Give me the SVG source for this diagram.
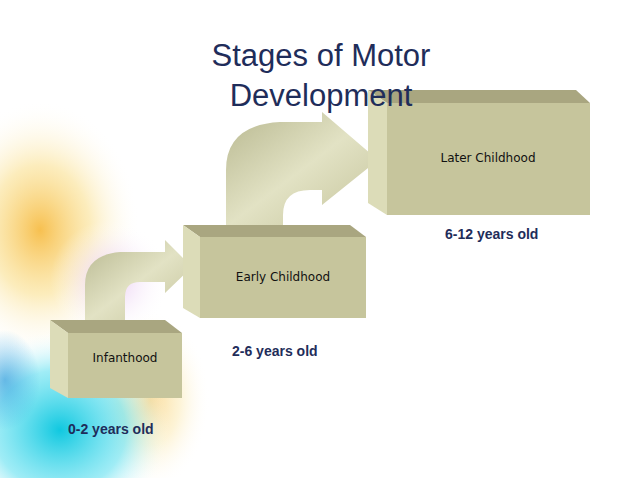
<svg xmlns="http://www.w3.org/2000/svg" width="638" height="478" viewBox="0 0 638 478">
<defs>
<radialGradient id="cy" cx="0.5" cy="0.5" r="0.5"><stop offset="0" stop-color="#10c8e0"/><stop offset="0.6" stop-color="#60e0f0" stop-opacity="0.6"/><stop offset="1" stop-color="#fff" stop-opacity="0"/></radialGradient>
<radialGradient id="yl" cx="0.5" cy="0.5" r="0.5"><stop offset="0" stop-color="#f7c050"/><stop offset="0.5" stop-color="#fae090" stop-opacity="0.6"/><stop offset="1" stop-color="#fff" stop-opacity="0"/></radialGradient>
<radialGradient id="pk" cx="0.5" cy="0.5" r="0.5"><stop offset="0" stop-color="#e8c8f0"/><stop offset="1" stop-color="#fff" stop-opacity="0"/></radialGradient>
<radialGradient id="bl" cx="0.5" cy="0.5" r="0.5"><stop offset="0" stop-color="#2090d8"/><stop offset="1" stop-color="#20a0e0" stop-opacity="0"/></radialGradient>
<linearGradient id="arr" x1="0" y1="0" x2="1" y2="1"><stop offset="0" stop-color="#b8b890"/><stop offset="0.5" stop-color="#e2e2c4"/><stop offset="1" stop-color="#c4c39a"/></linearGradient>
<style>
.front{fill:#c6c59c}.top{fill:#a9a680}.side{fill:#dcdcb8}
.lbl{font-family:"DejaVu Sans",sans-serif;font-size:12px;fill:#111;text-anchor:middle}
.age{font-family:"Liberation Sans",sans-serif;font-weight:bold;font-size:14px;fill:#1f2d5a}
.title{font-family:"Liberation Sans",Arial,sans-serif;font-size:31px;fill:#1f2d5a;text-anchor:middle}
</style>
</defs>
<rect width="638" height="478" fill="#fff"/>
<g id="background">
<ellipse cx="40" cy="230" rx="100" ry="130" fill="url(#yl)"/>
<ellipse cx="110" cy="280" rx="60" ry="60" fill="url(#pk)"/>
<ellipse cx="150" cy="400" rx="60" ry="90" fill="url(#yl)" opacity="0.6"/>
<ellipse cx="60" cy="430" rx="110" ry="100" fill="url(#cy)"/>
<ellipse cx="5" cy="380" rx="35" ry="50" fill="url(#bl)" opacity="0.6"/>
</g>
<g id="connectors">
<path d="M85,322 V285 Q85,255 120,252 H165 V240 L192,267 L165,293 V282 H140 Q125,282 125,297 V322 Z" fill="url(#arr)"/>
<path d="M226,227 V170 Q226,125 280,122 H322 V112 L378,160 L322,205 V190 H310 Q283,190 283,215 V227 Z" fill="url(#arr)"/>
</g>
<g id="infanthood">
<polygon class="top" points="50,320 165,320 182,333 68,333"/>
<polygon class="side" points="50,320 68,333 68,398 50,388"/>
<rect class="front" x="68" y="333" width="114" height="65"/>
<text class="lbl" x="125" y="362">Infanthood</text>
</g>
<g id="early">
<polygon class="top" points="183,225 350,225 366,237 200,237"/>
<polygon class="side" points="183,225 200,237 200,318 183,308"/>
<rect class="front" x="200" y="237" width="166" height="81"/>
<text class="lbl" x="283" y="281">Early Childhood</text>
</g>
<g id="later">
<polygon class="top" points="368,90 576,90 590,103 387,103"/>
<polygon class="side" points="368,90 387,103 387,215 368,203"/>
<rect class="front" x="387" y="103" width="203" height="112"/>
<text class="lbl" x="488" y="162">Later Childhood</text>
</g>
<g id="title">
<text class="title" x="321" y="66">Stages of Motor</text>
<text class="title" x="321" y="106">Development</text>
</g>
<g id="ages">
<text class="age" x="68" y="434">0-2  years old</text>
<text class="age" x="232" y="356">2-6 years old</text>
<text class="age" x="445" y="239">6-12 years old</text>
</g>
</svg>
